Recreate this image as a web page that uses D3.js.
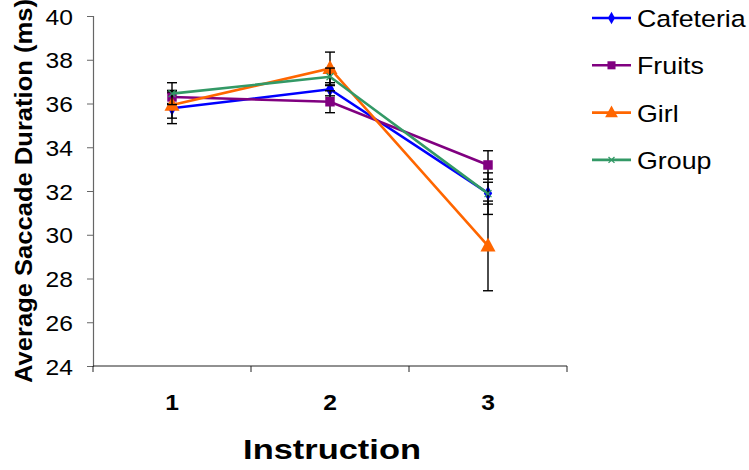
<!DOCTYPE html>
<html><head><meta charset="utf-8">
<script src="https://cdn.jsdelivr.net/npm/d3@7"></script>
<style>body{margin:0;background:#fff}svg{display:block}text{font-family:Arial,"Liberation Sans",sans-serif}</style>
</head><body><svg id="c" width="749" height="470"></svg>
<script>
const categories = ["1","2","3"];
const seriesNames = ["Cafeteria","Fruits","Girl","Group"];
const cafeteria = [35.78, 36.65, 31.9];
const fruits = [36.3, 36.08, 33.19];
const girl = [35.93, 37.6, 29.49];
const group = [36.45, 37.22, 31.88];
const cafeteriaErr = [0.7, 0.3, 0.5];
const fruitsErr = [0.3, 0.5, 0.65];
const girlErr = [0.6, 0.75, 2.05];
const groupErr = [0.5, 0.4, 0.95];
const yTicks = [24,26,28,30,32,34,36,38,40];
const colors = ["#0000FF","#800080","#FF6600","#339966"];
const symbols = ["diamond","square","triangle","x"];

const values = [cafeteria, fruits, girl, group];
const errs = [cafeteriaErr, fruitsErr, girlErr, groupErr];

const svg = d3.select("#c");
const L = 93, R = 567, T = 16, B = 366;
const x = d3.scaleBand().domain(categories).range([L, R]);
const y = d3.scaleLinear().domain([24, 40]).range([B, T]);
const cx = c => x(c) + x.bandwidth()/2;

// y axis
const ya = svg.append("g").attr("transform", `translate(${L},0)`)
  .call(d3.axisLeft(y).tickValues(yTicks).tickSize(6).tickFormat(d3.format("d")));
ya.select(".domain").attr("stroke","#666").attr("stroke-width",1.2);
ya.selectAll(".tick line").attr("stroke","#666");
ya.selectAll(".tick text").remove();
ya.selectAll(".tick").append("text")
  .attr("transform","translate(-20,8) scale(1.12,1)")
  .attr("text-anchor","end").attr("font-size",22).attr("fill","#000")
  .attr("font-family","Arial, Liberation Sans").text(d=>d);

// x axis
const xa = svg.append("g").attr("transform", `translate(0,${B})`);
xa.append("line").attr("x1",L).attr("x2",R).attr("y1",0).attr("y2",0).attr("stroke","#222").attr("stroke-width",1);
const bounds = [L, ...categories.map(c => x(c) + x.bandwidth())];
xa.selectAll("line.tk").data(bounds).join("line").attr("class","tk")
  .attr("x1",d=>d).attr("x2",d=>d).attr("y1",0).attr("y2",6).attr("stroke","#222");
xa.selectAll("text").data(categories).join("text")
  .attr("transform",d=>`translate(${cx(d)},44) scale(1.12,1)`).attr("text-anchor","middle")
  .attr("font-size",22).attr("font-weight","bold").text(d=>d);

svg.append("text").attr("transform","translate(332,459) scale(1.23,1)").attr("text-anchor","middle")
  .attr("font-size",28).attr("font-weight","bold").text("Instruction");
svg.append("text").attr("transform",`translate(32,191) rotate(-90) scale(1.065,1)`).attr("text-anchor","middle")
  .attr("font-size",24).attr("font-weight","bold").text("Average Saccade Duration (ms)");

function marker(g, sym, color, px, py, scale) {
  const s = scale || 1;
  if (sym === "diamond") {
    g.append("path").attr("d", d3.symbol(d3.symbolDiamond, 60*s*s)()).attr("transform",`translate(${px},${py})`).attr("fill",color);
  } else if (sym === "square") {
    g.append("path").attr("d", d3.symbol(d3.symbolSquare, 90*s*s)()).attr("transform",`translate(${px},${py})`).attr("fill",color);
  } else if (sym === "triangle") {
    const h = 14*s, w = 15*s;
    g.append("path").attr("d", `M${px},${py-h*0.6}L${px+w/2},${py+h*0.4}L${px-w/2},${py+h*0.4}Z`).attr("fill",color);
  } else {
    const r = 3.5*s;
    g.append("path").attr("d", `M${px-r},${py-r}L${px+r},${py+r}M${px-r},${py+r}L${px+r},${py-r}`).attr("stroke",color).attr("stroke-width",1.3).attr("fill","none");
  }
}

const line = d3.line().x((d,i)=>cx(categories[i])).y(d=>y(d));
values.forEach((vals, si) => {
  const g = svg.append("g");
  g.append("path").datum(vals).attr("d", line).attr("fill","none").attr("stroke",colors[si]).attr("stroke-width",2.6);
  vals.forEach((v,i) => {
    const px = cx(categories[i]), e = errs[si][i];
    g.append("line").attr("x1",px).attr("x2",px).attr("y1",y(v+e)).attr("y2",y(v-e)).attr("stroke","#000").attr("stroke-width",1.4);
    [v+e, v-e].forEach(t => g.append("line").attr("x1",px-5).attr("x2",px+5).attr("y1",y(t)).attr("y2",y(t)).attr("stroke","#000").attr("stroke-width",1.4));
  });
  vals.forEach((v,i) => marker(g, symbols[si], colors[si], cx(categories[i]), y(v), 1));
});

// legend
const leg = svg.append("g");
seriesNames.forEach((n, i) => {
  const ly = 18 + i*47.3;
  leg.append("line").attr("x1",592).attr("x2",631).attr("y1",ly).attr("y2",ly).attr("stroke",colors[i]).attr("stroke-width",2.6);
  marker(leg, symbols[i], colors[i], 611.5, ly, 0.85);
  leg.append("text").attr("transform",`translate(637,${ly+9}) scale(1.14,1)`).attr("font-size",23.5).text(n);
});
</script></body></html>
